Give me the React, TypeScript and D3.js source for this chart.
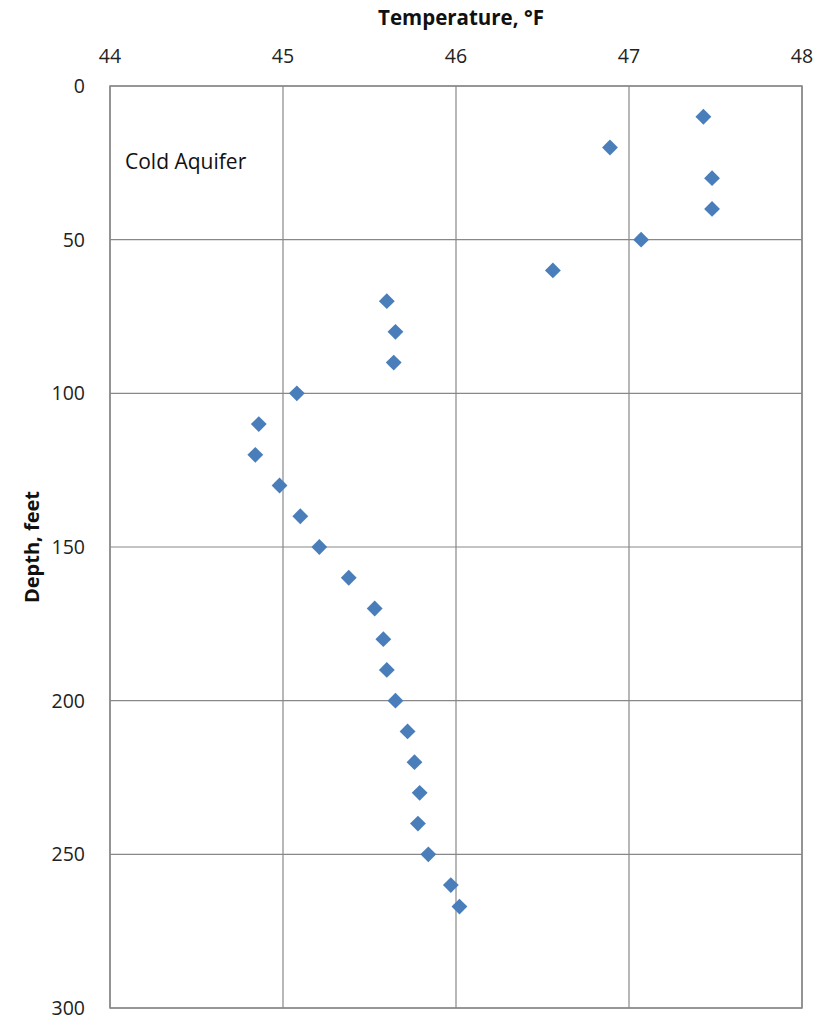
import React from 'react';
import * as d3 from 'd3';

// depth (feet) and temperature (°F)
const depths = [10, 20, 30, 40, 50, 60, 70, 80, 90, 100, 110, 120, 130, 140, 150, 160, 170, 180, 190, 200, 210, 220, 230, 240, 250, 260, 267];
const temps = [47.43, 46.89, 47.48, 47.48, 47.07, 46.56, 45.6, 45.65, 45.64, 45.08, 44.86, 44.84, 44.98, 45.1, 45.21, 45.38, 45.53, 45.58, 45.6, 45.65, 45.72, 45.76, 45.79, 45.78, 45.84, 45.97, 46.02];
const xTicks = [44, 45, 46, 47, 48];
const yTicks = [0, 50, 100, 150, 200, 250, 300];

const W = 829;
const H = 1024;
const margin = { top: 86, right: 27, bottom: 16, left: 110 };
const font = "'Open Sans', 'Liberation Sans', sans-serif";

const App: React.FC = () => {
  const x = d3.scaleLinear().domain([44, 48]).range([margin.left, W - margin.right]);
  const y = d3.scaleLinear().domain([0, 300]).range([margin.top, H - margin.bottom]);
  const points = depths.map((d, i) => ({ depth: d, temp: temps[i] }));
  const diamond = d3.symbol().type(d3.symbolDiamond2).size(160)();

  return (
    <svg width={W} height={H} style={{ position: 'absolute', left: 0, top: 0, background: '#fff' }}>
      {/* grid */}
      {xTicks.map(t => (
        <line key={'gx' + t} x1={x(t)} x2={x(t)} y1={y(0)} y2={y(300)} stroke="#888" strokeWidth={1.2} />
      ))}
      {yTicks.map(t => (
        <line key={'gy' + t} x1={x(44)} x2={x(48)} y1={y(t)} y2={y(t)} stroke="#888" strokeWidth={1.2} />
      ))}
      <rect x={x(44)} y={y(0)} width={x(48) - x(44)} height={y(300) - y(0)} fill="none" stroke="#888" strokeWidth={1.5} />

      {/* tick labels */}
      {xTicks.map(t => (
        <text key={'xl' + t} x={x(t)} y={63} textAnchor="middle" fontFamily={font} fontSize={19.5} fill="#222">{t}</text>
      ))}
      {yTicks.map(t => (
        <text key={'yl' + t} x={85} y={y(t) + 7} textAnchor="end" fontFamily={font} fontSize={19.5} fill="#222">{t}</text>
      ))}

      {/* axis titles */}
      <text x={461} y={25} textAnchor="middle" fontFamily={font} fontSize={20.5} fontWeight="bold" fill="#111">Temperature, °F</text>
      <text transform={`translate(39,${y(150)}) rotate(-90)`} textAnchor="middle" fontFamily={font} fontSize={20} fontWeight="bold" fill="#111">Depth, feet</text>

      <text x={125} y={169} fontFamily={font} fontSize={21} fill="#111">Cold Aquifer</text>

      {/* markers */}
      {points.map((p, i) => (
        <path key={i} d={diamond ?? ''} transform={`translate(${x(p.temp)},${y(p.depth)})`} fill="#4A7EBB" />
      ))}
    </svg>
  );
};

export default App;
